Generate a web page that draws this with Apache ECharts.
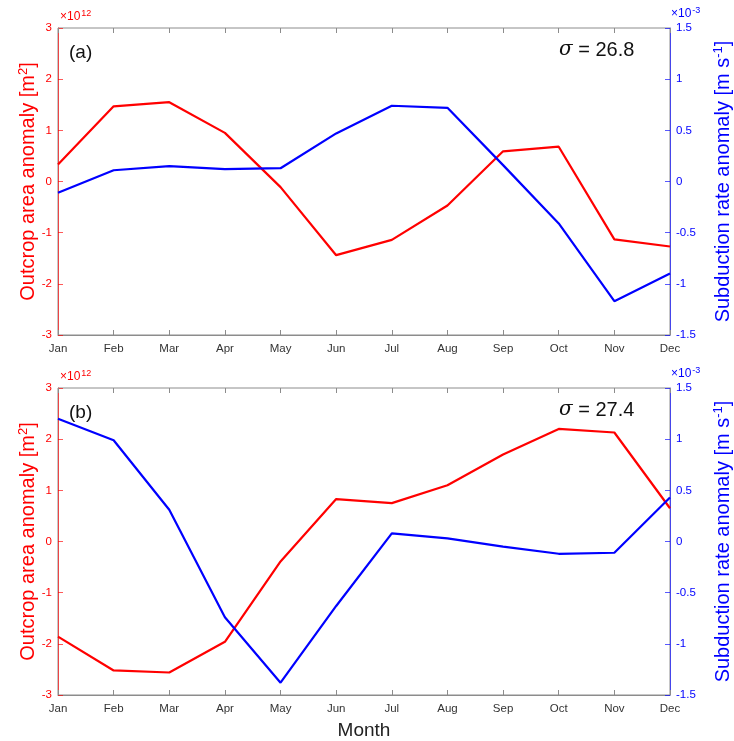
<!DOCTYPE html>
<html>
<head>
<meta charset="utf-8">
<script src="https://cdn.jsdelivr.net/npm/echarts@6/dist/echarts.min.js"></script>
<style>html,body{margin:0;padding:0;background:#fff}#c{width:734px;height:741px}</style>
</head>
<body>
<div id="c"></div>
<script>
var months = ['Jan','Feb','Mar','Apr','May','Jun','Jul','Aug','Sep','Oct','Nov','Dec'];
// outcrop area anomaly (x1e12 m^2)
var outcropA = [0.33, 1.47, 1.55, 0.95, -0.11, -1.44, -1.14, -0.47, 0.59, 0.68, -1.13, -1.27];
var outcropB = [-1.86, -2.52, -2.56, -1.96, -0.39, 0.83, 0.75, 1.10, 1.70, 2.20, 2.13, 0.65];
// subduction rate anomaly (x1e-3 m/s)
var subductA = [-0.11, 0.11, 0.15, 0.12, 0.13, 0.47, 0.74, 0.72, 0.16, -0.41, -1.17, -0.90];
var subductB = [1.20, 0.99, 0.31, -0.74, -1.38, -0.63, 0.08, 0.03, -0.05, -0.12, -0.11, 0.43];
var sigmaLabels = ['26.8', '27.4'];
var panelLabels = ['(a)', '(b)'];

var FONT = "'Liberation Sans', Arial, Helvetica, sans-serif";
var RED = '#ff0000', BLUE = '#0000ff', GRAY = '#8c8c8c';
var chart = echarts.init(document.getElementById('c'), null, {renderer: 'canvas'});

var tops = [28, 388], H = 307, L = 58, R = 64;
var grids = [], xAxes = [], yAxes = [], series = [], graphics = [];
var reds = [outcropA, outcropB], blues = [subductA, subductB];

for (var p = 0; p < 2; p++) {
  grids.push({left: L, right: R, top: tops[p], height: H, show: true, borderColor: GRAY, borderWidth: 1,
    backgroundColor: 'transparent', containLabel: false, outerBoundsMode: 'none'});
  xAxes.push({
    type: 'category', gridIndex: p, data: months, boundaryGap: false, position: 'bottom',
    axisLine: {onZero: false, lineStyle: {color: GRAY, width: 1}},
    axisTick: {inside: true, length: 5, lineStyle: {color: GRAY}},
    axisLabel: {color: '#333', fontSize: 11.5, fontFamily: FONT, margin: 8},
    splitLine: {show: false},
    name: p === 1 ? 'Month' : '', nameLocation: 'middle', nameGap: 26, nameMoveOverlap: false,
    nameTextStyle: {color: '#222', fontSize: 19, fontFamily: FONT}
  });
  xAxes.push({
    type: 'category', gridIndex: p, data: months, boundaryGap: false, position: 'top',
    axisLine: {show: false, onZero: false},
    axisTick: {inside: true, length: 5, lineStyle: {color: GRAY}},
    axisLabel: {show: false}, splitLine: {show: false}
  });
  yAxes.push({
    type: 'value', gridIndex: p, min: -3, max: 3, interval: 1, position: 'left',
    axisLine: {show: true, onZero: false, lineStyle: {color: 'rgba(255,0,0,0.65)', width: 1}},
    axisTick: {show: true, inside: true, length: 5, lineStyle: {color: 'rgba(255,0,0,0.65)'}},
    axisLabel: {color: RED, fontSize: 11.5, fontFamily: FONT, margin: 6},
    splitLine: {show: false},
    name: 'Outcrop area anomaly [m{sup|2}]', nameLocation: 'middle', nameRotate: 90, nameGap: 19,
    nameMoveOverlap: false,
    nameTextStyle: {color: RED, fontSize: 20, fontFamily: FONT,
      rich: {sup: {fontSize: 13, color: RED, fontFamily: FONT, verticalAlign: 'top', padding: [0, 0, 9, 0]}}}
  });
  yAxes.push({
    type: 'value', gridIndex: p, min: -1.5, max: 1.5, interval: 0.5, position: 'right',
    axisLine: {show: true, onZero: false, lineStyle: {color: 'rgba(0,0,255,0.65)', width: 1}},
    axisTick: {show: true, inside: true, length: 5, lineStyle: {color: 'rgba(0,0,255,0.65)'}},
    axisLabel: {color: BLUE, fontSize: 11.5, fontFamily: FONT, margin: 6},
    splitLine: {show: false},
    name: 'Subduction rate anomaly [m s{sup|-1}]', nameLocation: 'middle', nameRotate: 90, nameGap: 42,
    nameMoveOverlap: false,
    nameTextStyle: {color: BLUE, fontSize: 20, fontFamily: FONT,
      rich: {sup: {fontSize: 13, color: BLUE, fontFamily: FONT, verticalAlign: 'top', padding: [0, 0, 9, 0]}}}
  });
  series.push({
    type: 'line', xAxisIndex: 2 * p, yAxisIndex: 2 * p, data: reds[p], showSymbol: false,
    lineStyle: {color: RED, width: 2.2}, itemStyle: {color: RED}, silent: true, animation: false
  });
  series.push({
    type: 'line', xAxisIndex: 2 * p, yAxisIndex: 2 * p + 1, data: blues[p], showSymbol: false,
    lineStyle: {color: BLUE, width: 2.2}, itemStyle: {color: BLUE}, silent: true, animation: false
  });
  graphics.push({type: 'text', left: 69, top: tops[p] + 15, style: {text: panelLabels[p], fill: '#111', font: '19px ' + FONT}});
  graphics.push({type: 'text', left: 559, top: tops[p] + 12, style: {
    text: '{i|σ} = ' + sigmaLabels[p], fill: '#111', font: '20px ' + FONT,
    rich: {i: {font: 'italic 20px ' + "'DejaVu Serif', 'Liberation Serif', serif", fill: '#111'}}}});
  graphics.push({type: 'text', left: 60, top: tops[p] - 19, style: {
    text: '×10{s|12}', fill: RED, font: '12px ' + FONT,
    rich: {s: {font: '9px ' + FONT, fill: RED, verticalAlign: 'top', padding: [0, 0, 6, 1]}}}});
  graphics.push({type: 'text', left: 671, top: tops[p] - 22, style: {
    text: '×10{s|-3}', fill: BLUE, font: '12px ' + FONT,
    rich: {s: {font: '9px ' + FONT, fill: BLUE, verticalAlign: 'top', padding: [0, 0, 6, 1]}}}});
}

chart.setOption({
  animation: false,
  backgroundColor: '#fff',
  grid: grids, xAxis: xAxes, yAxis: yAxes, series: series, graphic: graphics
});
</script>
</body>
</html>
